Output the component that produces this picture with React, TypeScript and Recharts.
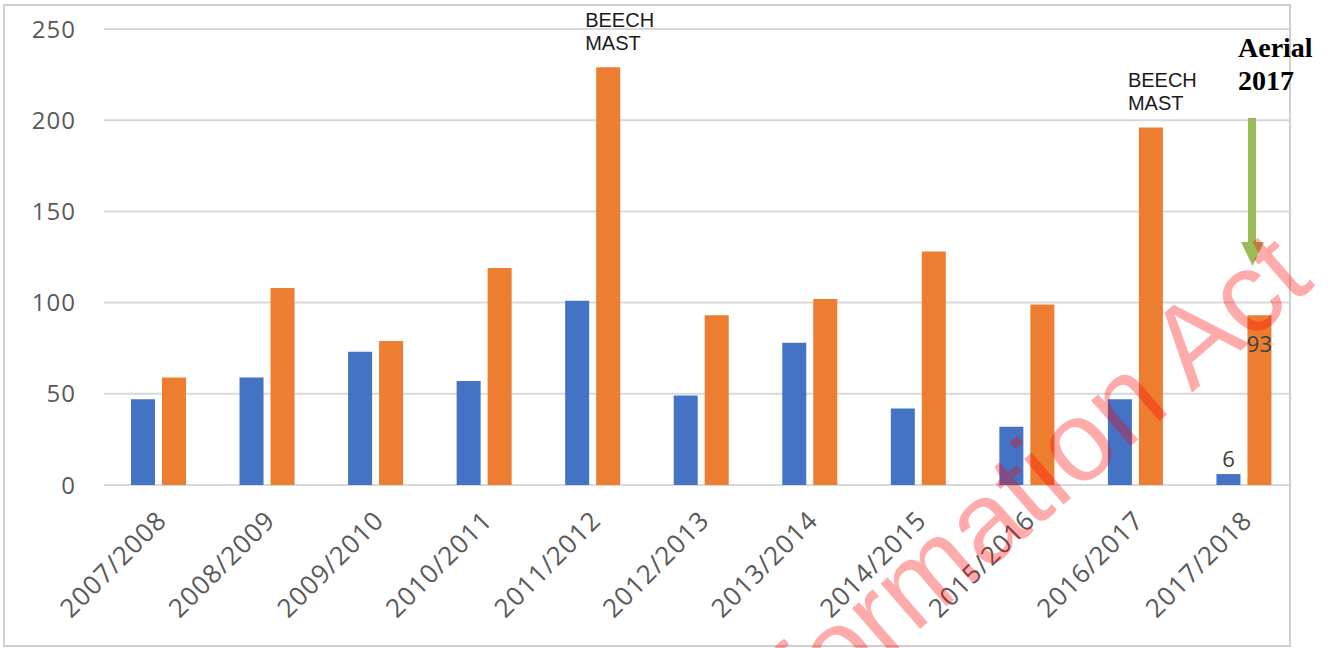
import React from 'react';
import { BarChart, Bar, XAxis, YAxis, CartesianGrid, LabelList } from 'recharts';

const seasons = [
  '2007/2008', '2008/2009', '2009/2010', '2010/2011', '2011/2012', '2012/2013',
  '2013/2014', '2014/2015', '2015/2016', '2016/2017', '2017/2018',
];
const blueValues = [47, 59, 73, 57, 101, 49, 78, 42, 32, 47, 6];
const orangeValues = [59, 108, 79, 119, 229, 93, 102, 128, 99, 196, 93];
const yTicks = [0, 50, 100, 150, 200, 250];
const beechMastSeasons = ['2011/2012', '2016/2017'];
const beechMastText = ['BEECH', 'MAST'];
const labelledSeason = '2017/2018';
const aerialText = ['Aerial', '2017'];
const watermarkText = 'formation Act';

const data = seasons.map((s, i) => ({
  season: s,
  blue: blueValues[i],
  orange: orangeValues[i],
  blueLabel: s === labelledSeason ? blueValues[i] : null,
  orangeLabel: s === labelledSeason ? orangeValues[i] : null,
  note: beechMastSeasons.includes(s) ? 'note' : null,
}));

const AXIS_FONT = "'Open Sans', sans-serif";

const XTick = (props: any) => {
  const { x, y, payload } = props;
  return (
    <g transform={`translate(${x + 10},${y + 29})`}>
      <text
        textAnchor="end"
        transform="rotate(-45)"
        fill="#595959"
        fontSize={26}
        letterSpacing={1}
        fontFamily={AXIS_FONT}
      >
        {payload.value}
      </text>
    </g>
  );
};

const BlueLabel = (p: any) => {
  if (p.value == null) return null;
  return (
    <text x={p.x + p.width / 2} y={p.y - 7} textAnchor="middle" fill="#404040" fontSize={22} fontFamily={AXIS_FONT}>
      {p.value}
    </text>
  );
};

const OrangeLabel = (p: any) => {
  if (p.value == null) return null;
  return (
    <text x={p.x + p.width / 2} y={p.y + 37} textAnchor="middle" fill="#404040" fontSize={22} fontFamily={AXIS_FONT}>
      {p.value}
    </text>
  );
};

const NoteLabel = (p: any) => {
  if (!p.value) return null;
  const lx = p.x - 11;
  return (
    <text fill="#1a1a1a" fontSize={20} fontFamily="'Liberation Sans', Arial, sans-serif">
      <tspan x={lx} y={p.y - 40}>{beechMastText[0]}</tspan>
      <tspan x={lx} y={p.y - 17}>{beechMastText[1]}</tspan>
    </text>
  );
};

export default function App() {
  return (
    <div style={{ position: 'absolute', left: 0, top: 0, width: 1334, height: 648, background: '#fff', overflow: 'hidden' }}>
      <BarChart
        width={1334}
        height={648}
        data={data}
        margin={{ top: 29, right: 36, bottom: 23, left: 24 }}
        barGap={7}
        barSize={24}
      >
        <CartesianGrid vertical={false} stroke="#d9d9d9" strokeWidth={2} />
        <XAxis
          dataKey="season"
          height={140}
          axisLine={false}
          tickLine={false}
          interval={0}
          tick={<XTick />}
        />
        <YAxis
          width={80}
          domain={[0, 250]}
          ticks={yTicks}
          axisLine={false}
          tickLine={false}
          tickMargin={22}
          tick={{ fill: '#595959', fontSize: 24, fontFamily: AXIS_FONT, letterSpacing: 1 }}
        />
        <Bar dataKey="blue" fill="#4472C4" isAnimationActive={false}>
          <LabelList dataKey="blueLabel" content={<BlueLabel />} />
        </Bar>
        <Bar dataKey="orange" fill="#ED7D31" isAnimationActive={false}>
          <LabelList dataKey="orangeLabel" content={<OrangeLabel />} />
          <LabelList dataKey="note" content={<NoteLabel />} />
        </Bar>
      </BarChart>
      <svg
        width={1334}
        height={648}
        style={{ position: 'absolute', left: 0, top: 0, pointerEvents: 'none' }}
      >
        <rect x={1291} y={0} width={43} height={648} fill="#fff" />
        <rect x={4} y={5} width={1286} height={641} fill="none" stroke="#cfcfcf" strokeWidth={2} />
        <text fill="#000" fontSize={28} fontWeight="bold" fontFamily="'Liberation Serif', 'Times New Roman', serif">
          <tspan x={1238} y={57}>{aerialText[0]}</tspan>
          <tspan x={1238} y={90}>{aerialText[1]}</tspan>
        </text>
        <rect x={1248} y={118} width={8} height={126} fill="#9BBB59" />
        <polygon points="1241,242 1264,242 1252.5,266" fill="#9BBB59" />
        <text
          x={1316}
          y={285}
          textAnchor="end"
          transform="rotate(-41, 1316, 285)"
          fill="rgba(255,0,0,0.33)"
          fontSize={114}
          fontFamily="'Liberation Sans', Arial, sans-serif"
        >
          {watermarkText}
        </text>
      </svg>
    </div>
  );
}
